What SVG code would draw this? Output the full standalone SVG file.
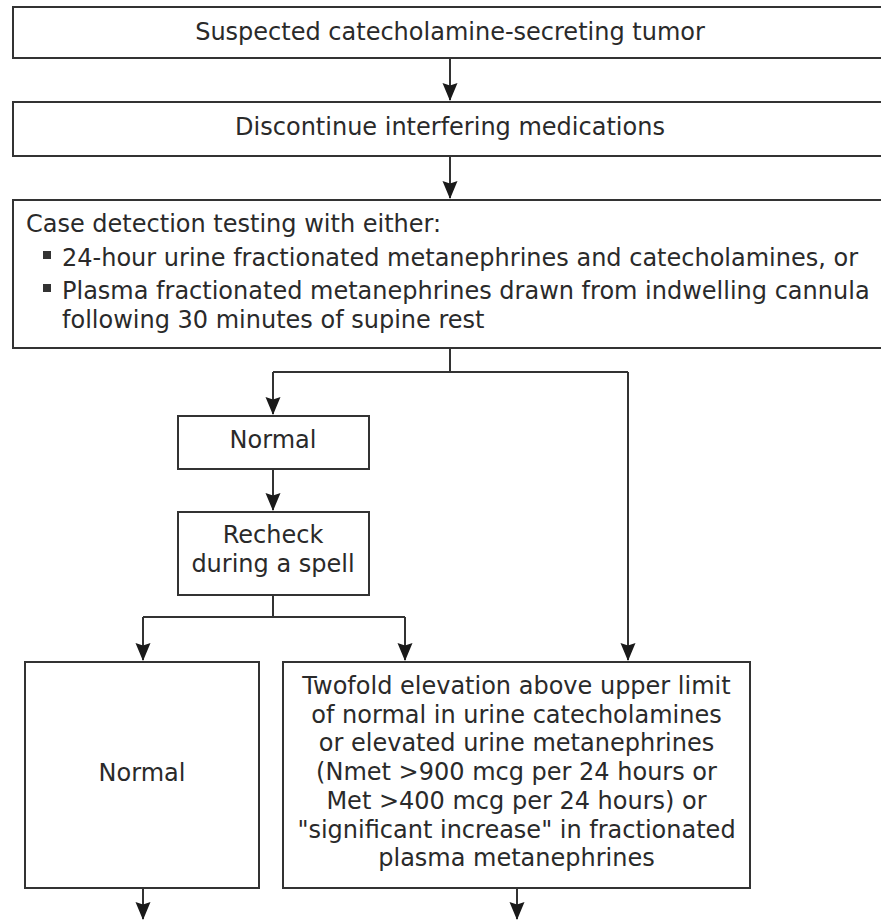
<svg xmlns="http://www.w3.org/2000/svg" width="881" height="920" viewBox="0 0 881 920">
<defs>
<style>
.box{fill:#fff;stroke:#333;stroke-width:2}
.t{font-family:"DejaVu Sans","Verdana",sans-serif;font-size:24px;fill:#2a2a2a}
.c{text-anchor:middle}
.ln{fill:none;stroke:#333;stroke-width:2}
.bul{fill:#333}
</style>
<marker id="ah" viewBox="0 0 18 16" refX="17" refY="8" markerWidth="18" markerHeight="16" markerUnits="userSpaceOnUse" orient="auto">
<path d="M18,8 L0,0.5 L2.5,8 L0,15.5 Z" fill="#1a1a1a"/>
</marker>
</defs>
<rect width="881" height="920" fill="#fff"/>
<g id="connectors">
<path class="ln" d="M450,58 V100" marker-end="url(#ah)"/>
<path class="ln" d="M450,156 V198" marker-end="url(#ah)"/>
<path class="ln" d="M450,348 V372"/>
<path class="ln" d="M273,372 H628"/>
<path class="ln" d="M273,372 V414" marker-end="url(#ah)"/>
<path class="ln" d="M628,372 V660" marker-end="url(#ah)"/>
<path class="ln" d="M273,469 V510" marker-end="url(#ah)"/>
<path class="ln" d="M273,595 V617"/>
<path class="ln" d="M143,617 H405"/>
<path class="ln" d="M143,617 V660" marker-end="url(#ah)"/>
<path class="ln" d="M405,617 V660" marker-end="url(#ah)"/>
<path class="ln" d="M143,888 V919" marker-end="url(#ah)"/>
<path class="ln" d="M517,888 V919" marker-end="url(#ah)"/>
</g>
<g id="n1">
<rect class="box" x="13" y="7" width="880" height="51"/>
<text class="t c" x="450" y="40">Suspected catecholamine-secreting tumor</text>
</g>
<g id="n2">
<rect class="box" x="13" y="102" width="880" height="54"/>
<text class="t c" x="450" y="135">Discontinue interfering medications</text>
</g>
<g id="n3">
<rect class="box" x="13" y="200" width="880" height="148"/>
<text class="t" x="26" y="232">Case detection testing with either:</text>
<rect class="bul" x="43" y="251" width="8" height="8"/>
<text class="t" x="62" y="266">24-hour urine fractionated metanephrines and catecholamines, or</text>
<rect class="bul" x="43" y="284" width="8" height="8"/>
<text class="t" x="62" y="299">Plasma fractionated metanephrines drawn from indwelling cannula</text>
<text class="t" x="62" y="328">following 30 minutes of supine rest</text>
</g>
<g id="n4">
<rect class="box" x="178" y="416" width="191" height="53"/>
<text class="t c" x="273" y="448">Normal</text>
</g>
<g id="n5">
<rect class="box" x="178" y="512" width="191" height="83"/>
<text class="t c" x="273" y="543">Recheck</text>
<text class="t c" x="273" y="572">during a spell</text>
</g>
<g id="n6">
<rect class="box" x="25" y="662" width="234" height="226"/>
<text class="t c" x="142" y="781">Normal</text>
</g>
<g id="n7">
<rect class="box" x="283" y="662" width="467" height="226"/>
<text class="t c" x="516.5" y="694">Twofold elevation above upper limit</text>
<text class="t c" x="516.5" y="723">of normal in urine catecholamines</text>
<text class="t c" x="516.5" y="751">or elevated urine metanephrines</text>
<text class="t c" x="516.5" y="780">(Nmet &gt;900 mcg per 24 hours or</text>
<text class="t c" x="516.5" y="809">Met &gt;400 mcg per 24 hours) or</text>
<text class="t c" x="516.5" y="838">"significant increase" in fractionated</text>
<text class="t c" x="516.5" y="866">plasma metanephrines</text>
</g>
</svg>
